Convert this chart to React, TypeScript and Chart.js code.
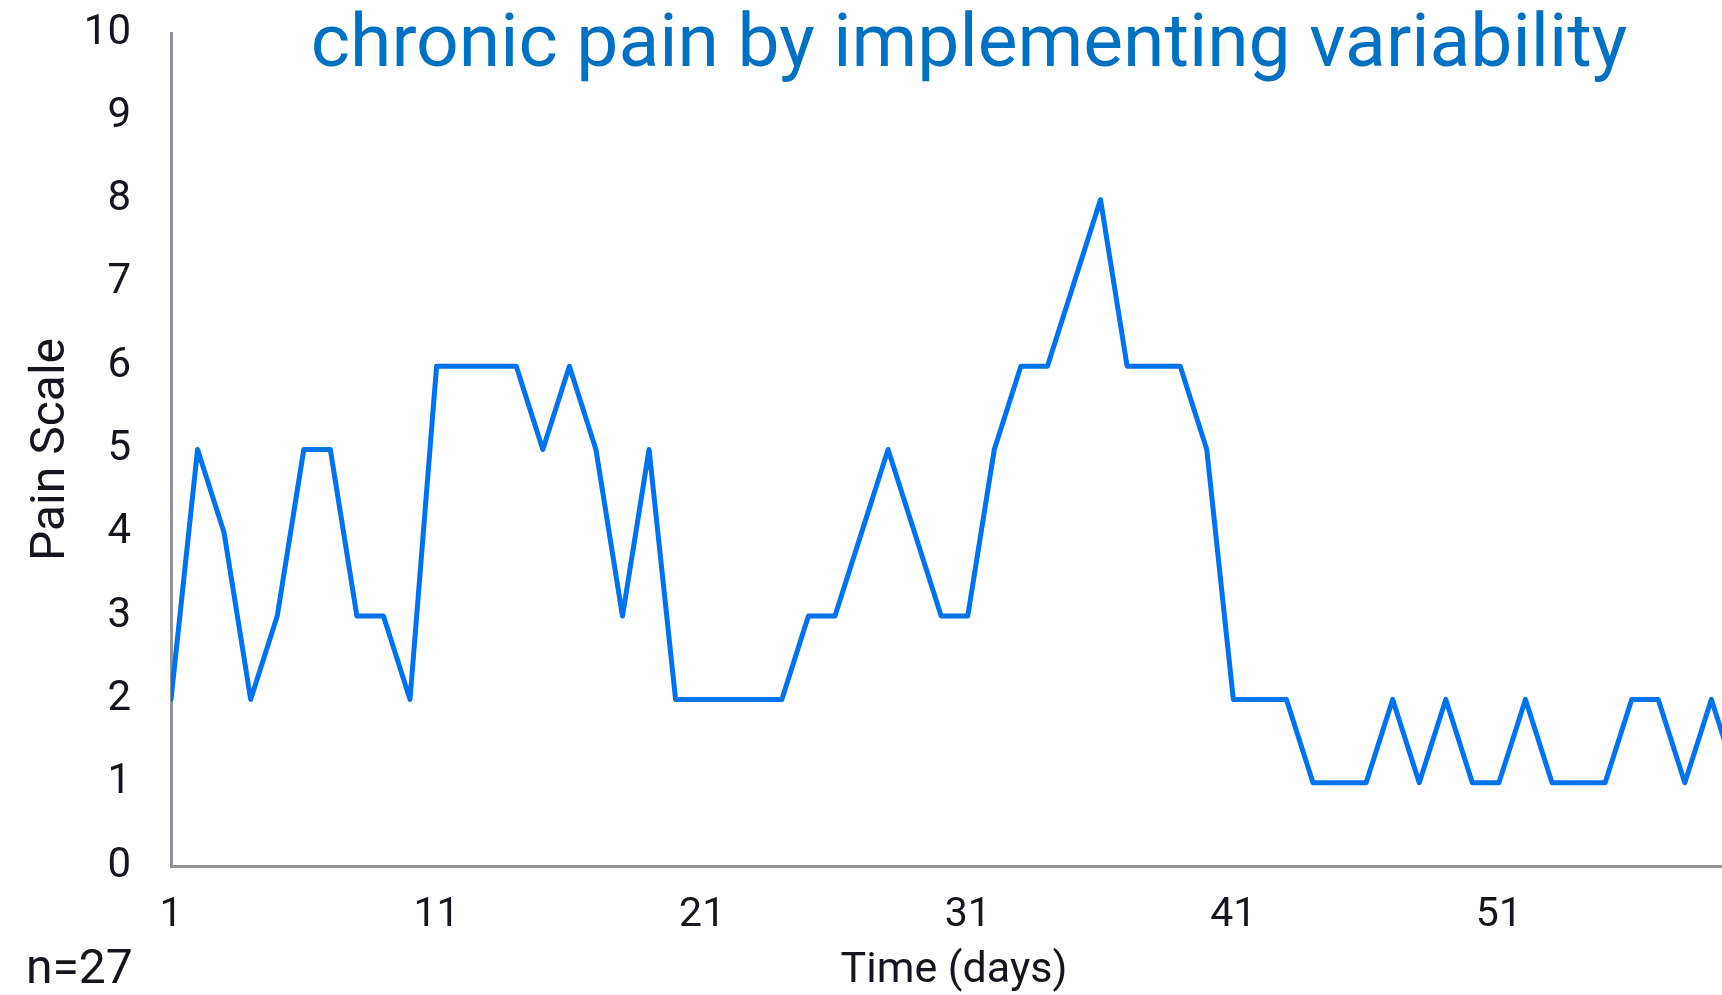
import React, { useEffect, useRef } from "react";
import { Chart, registerables } from "chart.js";

Chart.register(...registerables);

const days = [
  1, 2, 3, 4, 5, 6, 7, 8, 9, 10,
  11, 12, 13, 14, 15, 16, 17, 18, 19, 20,
  21, 22, 23, 24, 25, 26, 27, 28, 29, 30,
  31, 32, 33, 34, 35, 36, 37, 38, 39, 40,
  41, 42, 43, 44, 45, 46, 47, 48, 49, 50,
  51, 52, 53, 54, 55, 56, 57, 58, 59, 60,
];

const painScores = [
  2, 5, 4, 2, 3, 5, 5, 3, 3, 2,
  6, 6, 6, 6, 5, 6, 5, 3, 5, 2,
  2, 2, 2, 2, 3, 3, 4, 5, 4, 3,
  3, 5, 6, 6, 7, 8, 6, 6, 6, 5,
  2, 2, 2, 1, 1, 1, 2, 1, 2, 1,
  1, 2, 1, 1, 1, 2, 2, 1, 2, 1,
];

const xTickValues = [1, 11, 21, 31, 41, 51];
const titleText = "chronic pain by implementing variability";
const xTitle = "Time (days)";
const yTitle = "Pain Scale";
const noteText = "n=27";

const W = 1722;
const H = 995;
const FONT = "Roboto, 'Noto Sans', sans-serif";
const TEXT_COLOR = "#15151f";
const AXIS_COLOR = "#939199";

const textPlugin = {
  id: "extraText",
  afterDraw(chart: any) {
    const ctx = chart.ctx;
    ctx.save();
    ctx.fillStyle = "#0070c0";
    ctx.font = `400 75px ${FONT}`;
    ctx.textAlign = "center";
    ctx.textBaseline = "alphabetic";
    ctx.fillText(titleText, 969, 66);

    ctx.fillStyle = TEXT_COLOR;
    ctx.font = `400 43px ${FONT}`;
    ctx.textAlign = "center";
    ctx.textBaseline = "middle";
    ctx.fillText(xTitle, 954, 971);

    ctx.font = `400 48px ${FONT}`;
    ctx.textAlign = "left";
    ctx.textBaseline = "middle";
    ctx.fillText(noteText, 26, 971);
    ctx.restore();
  },
};

export default function App() {
  const canvasRef = useRef<HTMLCanvasElement | null>(null);

  useEffect(() => {
    let chart: any = null;
    let cancelled = false;
    const build = () => {
      if (cancelled || !canvasRef.current) return;
      chart = new Chart(canvasRef.current, {
        type: "line",
        data: {
          datasets: [
            {
              label: "Pain",
              data: days.map((d, i) => ({ x: d, y: painScores[i] })),
              borderColor: "#0073ea",
              borderWidth: 5,
              borderJoinStyle: "round",
              borderCapStyle: "round",
              pointRadius: 0,
              pointHoverRadius: 0,
              tension: 0,
              fill: false,
            },
          ],
        },
        options: {
          animation: false,
          responsive: false,
          maintainAspectRatio: false,
          devicePixelRatio: 1,
          layout: {
            autoPadding: false,
            padding: { top: 33, left: 0, right: 0, bottom: 0 },
          },
          plugins: {
            legend: { display: false },
            title: { display: false },
            tooltip: { enabled: false },
          },
          scales: {
            x: {
              type: "linear",
              min: 1,
              max: 59.4,
              grid: { display: false },
              border: { display: true, color: AXIS_COLOR, width: 3 },
              afterBuildTicks: (scale: any) => {
                scale.ticks = xTickValues.map((v) => ({ value: v }));
              },
              afterFit: (scale: any) => {
                scale.height = H - 866;
                scale.paddingLeft = 0;
                scale.paddingRight = 0;
              },
              ticks: {
                autoSkip: false,
                maxRotation: 0,
                padding: 17,
                color: TEXT_COLOR,
                font: { family: FONT, size: 41 },
              },
              title: { display: false, text: xTitle },
            },
            y: {
              min: 0,
              max: 10,
              grid: { display: false },
              border: { display: true, color: AXIS_COLOR, width: 3 },
              afterFit: (scale: any) => {
                scale.width = 171;
                scale.paddingTop = 0;
                scale.paddingBottom = 0;
              },
              ticks: {
                stepSize: 1,
                padding: 32,
                color: TEXT_COLOR,
                font: { family: FONT, size: 42 },
              },
              title: {
                display: true,
                text: yTitle,
                color: TEXT_COLOR,
                font: { family: FONT, size: 48 },
                padding: { top: 23, bottom: 0 },
              },
            },
          },
        },
        plugins: [textPlugin],
      } as any);
    };
    const fontsReady = (document as any).fonts
      ? Promise.all([
          (document as any).fonts.load(`75px Roboto`),
          (document as any).fonts.load(`42px Roboto`),
        ]).catch(() => null)
      : Promise.resolve(null);
    fontsReady.then(build);
    return () => {
      cancelled = true;
      if (chart) chart.destroy();
    };
  }, []);

  return (
    <div
      style={{
        position: "fixed",
        left: 0,
        top: 0,
        width: W,
        height: H,
        background: "#ffffff",
        overflow: "hidden",
      }}
    >
      <canvas
        ref={canvasRef}
        width={W}
        height={H}
        style={{ display: "block", width: W, height: H }}
      />
    </div>
  );
}
